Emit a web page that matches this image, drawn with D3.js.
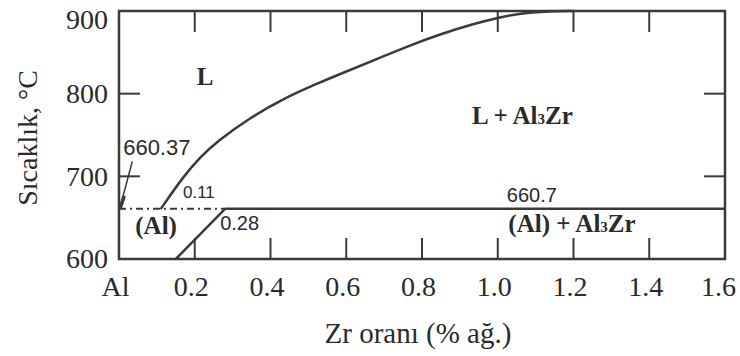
<!DOCTYPE html>
<html>
<head>
<meta charset="utf-8">
<script src="https://cdn.jsdelivr.net/npm/d3@7"></script>
<style>
  body { margin: 0; background: #fff; }
</style>
</head>
<body>
<svg id="chart" width="740" height="356"></svg>
<script>
// axis ticks
var xTicks = [0, 0.2, 0.4, 0.6, 0.8, 1.0, 1.2, 1.4, 1.6];
var xTickLabels = ["Al", "0.2", "0.4", "0.6", "0.8", "1.0", "1.2", "1.4", "1.6"];
var yTicks = [600, 700, 800, 900];

// liquidus (L / L + Al3Zr boundary)
var liquidusZr = [0.11, 0.17, 0.214, 0.258, 0.346, 0.434, 0.522, 0.59, 0.671, 0.76, 0.848, 0.935, 1.006, 1.06, 1.12, 1.2];
var liquidusT  = [660.37, 700, 723, 742, 771, 794, 812, 825, 840, 857, 872, 884.5, 892.5, 897, 899.6, 900];

// solvus of (Al)
var solvusZr = [0.15, 0.28];
var solvusT  = [600, 660.7];

// peritectic line
var peritecticT = 660.7;
var peritecticDashZr = [0, 0.28];
var peritecticSolidZr = [0.28, 1.6];

// melting point of Al
var meltT = 660.37;

// phase labels
var phaseNames = ["L", "L + Al3Zr", "(Al)", "(Al) + Al3Zr"];
var phaseZr    = [0.227, 1.065, 0.098, 1.196];
var phaseT     = [810, 763, 630.5, 632.5];

// value labels
var valueNames = ["660.37", "0.11", "0.28", "660.7"];
var valueZr    = [0.011, 0.169, 0.267, 1.024];
var valueT     = [725.8, 673.8, 635, 669.3];

var svg = d3.select("svg#chart");
var lineColor = "#3a3a3a";
var textColor = "#2a2a2a";

var x = d3.scaleLinear().domain([0, 1.6]).range([119, 725]);
var y = d3.scaleLinear().domain([600, 900]).range([259, 11]);

// frame
svg.append("rect")
    .attr("x", x(0))
    .attr("y", y(900))
    .attr("width", x(1.6) - x(0))
    .attr("height", y(600) - y(900))
    .attr("fill", "none")
    .attr("stroke", lineColor)
    .attr("stroke-width", 2.5);

// inward ticks, all four sides
var tickLen = 21;
var innerX = xTicks.slice(1, -1);
var innerY = yTicks.slice(1, -1);
innerX.forEach(function(v) {
  svg.append("line").attr("x1", x(v)).attr("x2", x(v))
     .attr("y1", y(600)).attr("y2", y(600) - tickLen)
     .attr("stroke", lineColor).attr("stroke-width", 2);
  svg.append("line").attr("x1", x(v)).attr("x2", x(v))
     .attr("y1", y(900)).attr("y2", y(900) + tickLen)
     .attr("stroke", lineColor).attr("stroke-width", 2);
});
innerY.forEach(function(v) {
  svg.append("line").attr("x1", x(0)).attr("x2", x(0) + tickLen)
     .attr("y1", y(v)).attr("y2", y(v))
     .attr("stroke", lineColor).attr("stroke-width", 2);
  svg.append("line").attr("x1", x(1.6)).attr("x2", x(1.6) - tickLen)
     .attr("y1", y(v)).attr("y2", y(v))
     .attr("stroke", lineColor).attr("stroke-width", 2);
});

// tick labels through d3 axes (no lines)
var xAxis = d3.axisBottom(x).tickValues(xTicks)
    .tickFormat(function(d, i) { return xTickLabels[i]; })
    .tickSize(0).tickPadding(0);
var gx = svg.append("g").attr("transform", "translate(-4," + (y(600) + 28) + ")").call(xAxis);
gx.select(".domain").remove();
gx.selectAll("text")
    .attr("dy", "0.32em")
    .attr("fill", textColor)
    .style("font-family", "'Liberation Serif', 'Times New Roman', serif")
    .style("font-size", "28px");
gx.selectAll("text").filter(function(d) { return d === 1.6; }).attr("dx", "-3");

var yAxis = d3.axisLeft(y).tickValues(yTicks)
    .tickFormat(d3.format("d"))
    .tickSize(0).tickPadding(11);
var gy = svg.append("g").attr("transform", "translate(" + x(0) + ",0)").call(yAxis);
gy.select(".domain").remove();
gy.selectAll("text")
    .attr("fill", textColor)
    .style("font-family", "'Liberation Serif', 'Times New Roman', serif")
    .style("font-size", "28px");
gy.selectAll("text").filter(function(d) { return d === 900; }).attr("dy", "0.62em");

// axis titles
svg.append("text")
    .attr("x", (x(0) + x(1.6)) / 2 - 4)
    .attr("y", 343)
    .attr("text-anchor", "middle")
    .attr("fill", textColor)
    .style("font-family", "'Liberation Serif', 'Times New Roman', serif")
    .style("font-size", "29px")
    .text("Zr oranı (% ağ.)");

svg.append("text")
    .attr("transform", "translate(37," + 138 + ") rotate(-90)")
    .attr("text-anchor", "middle")
    .attr("fill", textColor)
    .style("font-family", "'Liberation Serif', 'Times New Roman', serif")
    .style("font-size", "28px")
    .text("Sıcaklık, °C");

// phase boundaries
var liquidus = liquidusZr.map(function(d, i) { return [d, liquidusT[i]]; });
var line = d3.line()
    .x(function(d) { return x(d[0]); })
    .y(function(d) { return y(d[1]); })
    .curve(d3.curveBasis);

svg.append("path")
    .attr("d", line(liquidus))
    .attr("fill", "none")
    .attr("stroke", lineColor)
    .attr("stroke-width", 2.5);

svg.append("line")
    .attr("x1", x(solvusZr[0])).attr("y1", y(solvusT[0]))
    .attr("x2", x(solvusZr[1])).attr("y2", y(solvusT[1]))
    .attr("stroke", lineColor)
    .attr("stroke-width", 2.5);

svg.append("line")
    .attr("x1", x(peritecticSolidZr[0])).attr("y1", y(peritecticT))
    .attr("x2", x(peritecticSolidZr[1])).attr("y2", y(peritecticT))
    .attr("stroke", lineColor)
    .attr("stroke-width", 2.5);

svg.append("line")
    .attr("x1", x(peritecticDashZr[0])).attr("y1", y(peritecticT))
    .attr("x2", x(peritecticDashZr[1])).attr("y2", y(peritecticT))
    .attr("stroke", lineColor)
    .attr("stroke-width", 2)
    .attr("stroke-dasharray", "7,4,2,4");

// melting point marker with leader to its label
svg.append("line")
    .attr("x1", x(0.035)).attr("y1", y(718))
    .attr("x2", x(0.004)).attr("y2", y(meltT + 4))
    .attr("stroke", lineColor)
    .attr("stroke-width", 1.5);
svg.append("line")
    .attr("x1", x(0.002)).attr("y1", y(meltT))
    .attr("x2", x(0.014)).attr("y2", y(meltT + 16))
    .attr("stroke", lineColor)
    .attr("stroke-width", 3.5);

// phase labels (bold serif, Al3Zr with a small 3)
phaseNames.forEach(function(name, i) {
  var t = svg.append("text")
      .attr("x", x(phaseZr[i]))
      .attr("y", y(phaseT[i]))
      .attr("text-anchor", "middle")
      .attr("fill", textColor)
      .style("font-family", "'Liberation Serif', 'Times New Roman', serif")
      .style("font-weight", "bold")
      .style("font-size", "25px");
  var parts = name.split("3");
  if (parts.length === 2) {
    t.append("tspan").text(parts[0]);
    t.append("tspan").style("font-size", "15px").text("3");
    t.append("tspan").text(parts[1]);
  } else {
    t.text(name);
  }
});

// value labels (sans)
var valueSizes = [22, 17, 20, 20];
valueNames.forEach(function(name, i) {
  svg.append("text")
      .attr("x", x(valueZr[i]))
      .attr("y", y(valueT[i]))
      .attr("fill", textColor)
      .style("font-family", "'Liberation Sans', Arial, sans-serif")
      .style("font-size", valueSizes[i] + "px")
      .text(name);
});
</script>
</body>
</html>
